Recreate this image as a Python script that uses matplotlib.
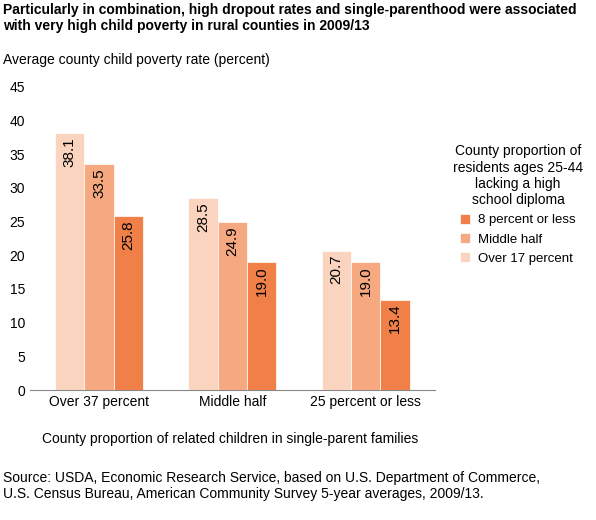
import matplotlib
matplotlib.use("Agg")
import matplotlib.pyplot as plt
import numpy as np

groups = ["Over 37 percent", "Middle half", "25 percent or less"]
series_names = ["Over 17 percent", "Middle half", "8 percent or less"]
values = {
    "Over 17 percent": [38.1, 28.5, 20.7],
    "Middle half": [33.5, 24.9, 19.0],
    "8 percent or less": [25.8, 19.0, 13.4],
}
colors = {"Over 17 percent": "#FAD4BF", "Middle half": "#F6A880", "8 percent or less": "#F08048"}

plt.rcParams['font.family'] = ['Liberation Sans', 'DejaVu Sans']
fig = plt.figure(figsize=(5.96, 5.2), dpi=100)
ax = fig.add_axes([0.050, 0.25, 0.68, 0.583])
x = np.arange(len(groups))
w = 0.22
handles = {}
for i, s in enumerate(series_names):
    xs = x + (i - 1) * w
    b = ax.bar(xs, values[s], width=w, color=colors[s], edgecolor="white", linewidth=0.5, zorder=3)
    handles[s] = b
    for xi, v in zip(xs, values[s]):
        ax.text(xi, v - 0.6, f"{v:.1f}", rotation=90, ha="center", va="top", fontsize=11, zorder=4)
ax.set_xlim(-0.52, 2.52)
ax.set_ylim(0, 45)
ax.set_yticks(range(0, 46, 5))
ax.set_xticks(x)
ax.set_xticklabels(groups, fontsize=10)
ax.tick_params(axis='y', labelsize=10, length=0)
ax.tick_params(axis='x', length=0)
for sp in ["top", "right", "left"]:
    ax.spines[sp].set_visible(False)
ax.spines["bottom"].set_color("#888888")

leg = fig.legend([handles[s] for s in series_names[::-1]], series_names[::-1],
                 title="County proportion of\nresidents ages 25-44\nlacking a high\nschool diploma",
                 loc="upper left", bbox_to_anchor=(0.74, 0.745), fontsize=9.5, title_fontsize=10,
                 frameon=False, handlelength=0.8, handleheight=0.8, handletextpad=0.6)
leg.get_title().set_multialignment("center")

fig.text(0.005, 0.995, "Particularly in combination, high dropout rates and single-parenthood were associated\nwith very high child poverty in rural counties in 2009/13",
         fontsize=10, fontweight="bold", va="top", ha="left")
fig.text(0.005, 0.885, "Average county child poverty rate (percent)", fontsize=10, va="center")
fig.text(0.07, 0.155, "County proportion of related children in single-parent families", fontsize=10, va="center")
fig.text(0.005, 0.065, "Source: USDA, Economic Research Service, based on U.S. Department of Commerce,\nU.S. Census Bureau, American Community Survey 5-year averages, 2009/13.",
         fontsize=10, va="center")
fig.savefig("out.png", dpi=100)
